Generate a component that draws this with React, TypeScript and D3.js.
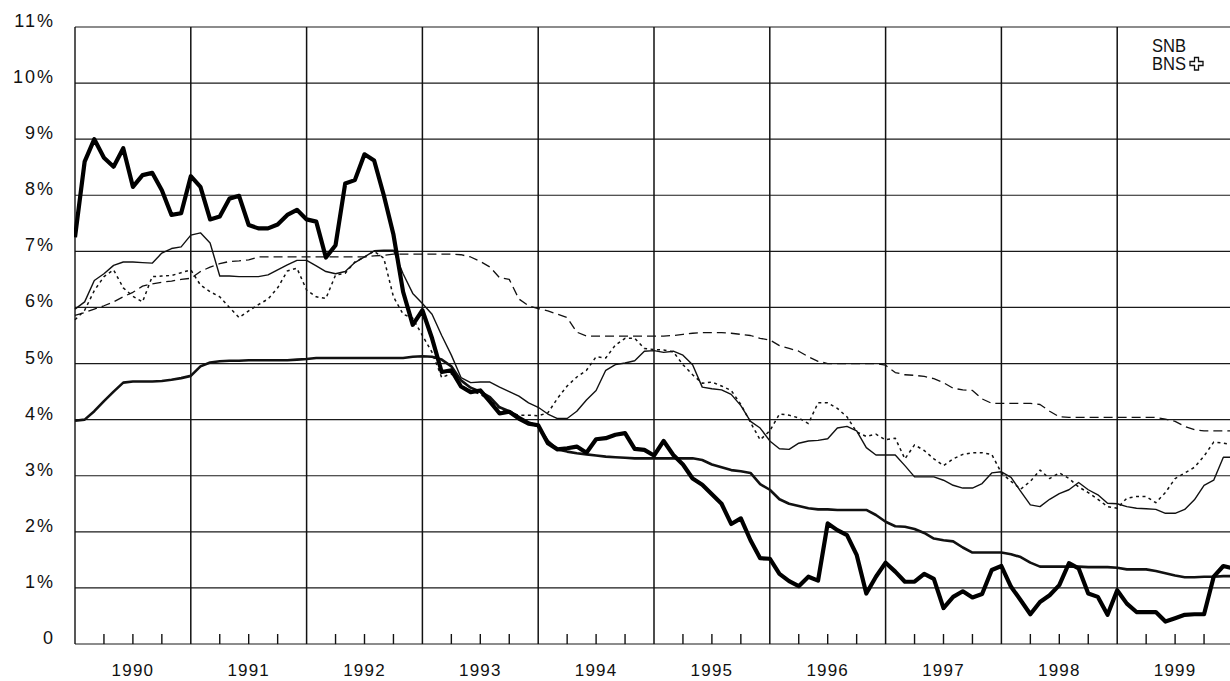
import React from "react";
import * as d3 from "d3";

// Monthly observations, Jan 1990 (index 0) .. Jan 2000 (index 120)
const years = [1990, 1991, 1992, 1993, 1994, 1995, 1996, 1997, 1998, 1999];
const yTicks = [0, 1, 2, 3, 4, 5, 6, 7, 8, 9, 10, 11];

const seriesThick = [
  7.25, 8.6, 9.0, 8.67, 8.51, 8.84, 8.15, 8.36, 8.4, 8.09, 7.65, 7.68,
  8.34, 8.15, 7.57, 7.62, 7.94, 7.99, 7.47, 7.41, 7.41, 7.48, 7.65, 7.74,
  7.57, 7.53, 6.89, 7.11, 8.21, 8.27, 8.73, 8.62, 8.0, 7.3, 6.28, 5.69,
  5.95, 5.45, 4.85, 4.88, 4.59, 4.49, 4.52, 4.32, 4.11, 4.14, 4.02, 3.93,
  3.9, 3.58, 3.47, 3.49, 3.52, 3.41, 3.65, 3.67, 3.73, 3.76, 3.48, 3.46,
  3.36, 3.62, 3.37, 3.2, 2.95, 2.84, 2.67, 2.5, 2.14, 2.24, 1.85, 1.53,
  1.52, 1.25, 1.12, 1.03, 1.2, 1.13, 2.15, 2.03, 1.94, 1.59, 0.9, 1.2,
  1.45, 1.29, 1.11, 1.11, 1.25, 1.16, 0.64, 0.84, 0.94, 0.83, 0.89, 1.32,
  1.39, 1.02, 0.78, 0.53, 0.75, 0.87, 1.05, 1.44, 1.35, 0.9, 0.84, 0.52,
  0.96, 0.72, 0.57, 0.57, 0.57, 0.4, 0.46, 0.52, 0.53, 0.53, 1.2, 1.39,
  1.35,
];

const seriesMedium = [
  3.98, 4.0, 4.15, 4.33, 4.5, 4.66, 4.68, 4.68, 4.68, 4.69, 4.71, 4.74,
  4.78, 4.95, 5.02, 5.04, 5.05, 5.05, 5.06, 5.06, 5.06, 5.06, 5.06, 5.07,
  5.08, 5.1, 5.1, 5.1, 5.1, 5.1, 5.1, 5.1, 5.1, 5.1, 5.1, 5.12,
  5.13, 5.12, 5.07, 4.95, 4.7, 4.57, 4.5, 4.4, 4.22, 4.15, 4.05, 3.95,
  3.88, 3.62, 3.47, 3.43, 3.4, 3.38, 3.36, 3.34, 3.33, 3.32, 3.31, 3.31,
  3.31, 3.31, 3.31, 3.31, 3.31, 3.28, 3.2, 3.15, 3.1, 3.08, 3.05, 2.85,
  2.75, 2.58, 2.5, 2.46, 2.42, 2.4, 2.4, 2.39, 2.39, 2.39, 2.39, 2.3,
  2.18, 2.1, 2.09, 2.05, 1.98, 1.88, 1.85, 1.83, 1.72, 1.63, 1.63, 1.63,
  1.63, 1.6, 1.55, 1.45, 1.38, 1.38, 1.38, 1.38, 1.38, 1.37, 1.37, 1.37,
  1.36, 1.33, 1.33, 1.33, 1.3, 1.26, 1.22, 1.19, 1.19, 1.2, 1.2, 1.21,
  1.21,
];

const seriesThin = [
  5.97, 6.1, 6.48, 6.6, 6.75, 6.81, 6.81, 6.8, 6.79, 6.97, 7.05, 7.08,
  7.29, 7.33, 7.15, 6.56, 6.56, 6.55, 6.55, 6.55, 6.58, 6.67, 6.76, 6.84,
  6.84, 6.74, 6.64, 6.6, 6.64, 6.8, 6.9, 7.01, 7.02, 7.02, 6.6, 6.25,
  6.07, 5.88, 5.5, 5.15, 4.75, 4.66, 4.67, 4.67, 4.58, 4.5, 4.42, 4.3,
  4.22, 4.1, 4.02, 4.02, 4.15, 4.35, 4.52, 4.88, 4.98, 5.01, 5.05, 5.22,
  5.23, 5.2, 5.22, 5.15, 4.98, 4.58, 4.55, 4.53, 4.45, 4.25, 3.97, 3.85,
  3.62, 3.48, 3.47, 3.58, 3.62, 3.63, 3.66, 3.85, 3.88, 3.8, 3.5, 3.37,
  3.37, 3.37, 3.18, 2.98, 2.98, 2.98, 2.92, 2.83, 2.78, 2.78, 2.86, 3.05,
  3.07, 2.97, 2.72, 2.48, 2.45, 2.58, 2.68, 2.75, 2.88, 2.75, 2.66, 2.51,
  2.5, 2.45, 2.42, 2.41, 2.4, 2.33, 2.33, 2.4, 2.57, 2.83, 2.92, 3.33,
  3.33,
];

const seriesDotted = [
  5.78, 5.95, 6.3, 6.55, 6.67, 6.35, 6.2, 6.1, 6.55, 6.56, 6.57, 6.62,
  6.67, 6.4, 6.28, 6.19, 6.0, 5.82, 5.94, 6.05, 6.15, 6.35, 6.65, 6.7,
  6.31, 6.19, 6.16, 6.58, 6.61, 6.81, 6.9, 7.0, 6.88, 6.19, 5.88, 5.81,
  5.5, 5.2, 4.75, 4.82, 4.6, 4.52, 4.45, 4.35, 4.2, 4.13, 4.08, 4.08,
  4.07, 4.12, 4.38, 4.6, 4.76, 4.88, 5.12, 5.1, 5.33, 5.45, 5.45, 5.27,
  5.25, 5.24, 5.21, 4.98, 4.8, 4.65, 4.67, 4.6, 4.52, 4.27, 3.95, 3.64,
  3.8, 4.1, 4.08, 4.03, 3.93, 4.3, 4.3, 4.2, 4.05, 3.78, 3.7, 3.74,
  3.64, 3.67, 3.3, 3.55, 3.45, 3.3, 3.18, 3.3, 3.38, 3.41, 3.41, 3.38,
  3.05, 2.9, 2.76, 2.9, 3.1, 2.95, 3.05, 2.95, 2.8, 2.7, 2.58, 2.45,
  2.42, 2.6, 2.63, 2.63, 2.52, 2.7, 2.95, 3.05, 3.15, 3.35, 3.6, 3.58,
  3.55,
];

const seriesDashed = [
  5.86, 5.91, 5.97, 6.03, 6.1, 6.19, 6.27, 6.38, 6.42, 6.45, 6.47, 6.5,
  6.52, 6.64, 6.72, 6.78, 6.82, 6.83, 6.85, 6.9, 6.9, 6.9, 6.9, 6.9,
  6.9, 6.9, 6.9, 6.9, 6.9, 6.9, 6.9, 6.92, 6.93, 6.95, 6.95, 6.95,
  6.95, 6.95, 6.95, 6.95, 6.94, 6.9, 6.82, 6.72, 6.53, 6.5, 6.15, 6.03,
  5.98, 5.94, 5.88, 5.82, 5.56, 5.49, 5.49, 5.49, 5.49, 5.49, 5.49, 5.49,
  5.49, 5.49, 5.5, 5.52, 5.54, 5.55, 5.55, 5.55, 5.54, 5.52, 5.5, 5.45,
  5.42, 5.32, 5.27, 5.22, 5.12, 5.04, 5.0, 5.0, 5.0, 5.0, 5.0, 5.0,
  4.97, 4.84, 4.8, 4.79, 4.77, 4.73, 4.66, 4.56, 4.53, 4.52, 4.37, 4.29,
  4.29, 4.29, 4.29, 4.29, 4.27, 4.15, 4.05, 4.04, 4.04, 4.04, 4.04, 4.04,
  4.04, 4.04, 4.04, 4.04, 4.04, 4.01, 3.97, 3.88, 3.82, 3.8, 3.8, 3.8,
  3.8,
];

const W = 1230;
const H = 681;
const LEFT = 75;
const TOP = 27;
const BOTTOM = 644;
const YEAR_W = 115.8;

export default function App() {
  const x = d3.scaleLinear().domain([0, 120]).range([LEFT, LEFT + YEAR_W * 10]);
  const y = d3.scaleLinear().domain([0, 11]).range([BOTTOM, TOP]);
  const line = d3
    .line<number>()
    .x((_, i) => x(i))
    .y((d) => y(d));

  const font = "'Liberation Sans', Arial, Helvetica, sans-serif";
  const quarterTicks: number[] = [];
  years.forEach((_, k) => {
    [3, 6, 9].forEach((m) => quarterTicks.push(k * 12 + m));
  });

  return (
    <svg
      width={W}
      height={H}
      style={{ position: "absolute", left: 0, top: 0, background: "#fff" }}
    >
      <defs>
        <clipPath id="plot">
          <rect x={LEFT - 1} y={TOP - 2} width={W - LEFT + 1} height={BOTTOM - TOP + 4} />
        </clipPath>
      </defs>
      <rect x={0} y={0} width={W} height={H} fill="#fff" />

      {/* horizontal gridlines */}
      {yTicks.map((t) => (
        <line
          key={"h" + t}
          x1={LEFT}
          x2={W}
          y1={y(t)}
          y2={y(t)}
          stroke="#1a1a1a"
          strokeWidth={1.2}
        />
      ))}
      {/* vertical year lines */}
      {years.map((yr, k) => (
        <line
          key={"v" + yr}
          x1={x(k * 12)}
          x2={x(k * 12)}
          y1={TOP}
          y2={BOTTOM}
          stroke="#111"
          strokeWidth={k === 0 ? 1.4 : 1.5}
        />
      ))}
      {/* quarter ticks */}
      {quarterTicks.map((m) => (
        <line
          key={"q" + m}
          x1={x(m)}
          x2={x(m)}
          y1={BOTTOM}
          y2={BOTTOM - 10}
          stroke="#111"
          strokeWidth={1.4}
        />
      ))}

      {/* y labels */}
      {yTicks.map((t) => (
        <text
          key={"yl" + t}
          x={55}
          y={y(t)}
          textAnchor="end"
          fontFamily={font}
          fontSize={18}
          letterSpacing={2}
          fill="#111"
        >
          {t === 0 ? "0" : t + "%"}
        </text>
      ))}
      {/* x labels */}
      {years.map((yr, k) => (
        <text
          key={"xl" + yr}
          x={x(k * 12 + 6)}
          y={676}
          textAnchor="middle"
          fontFamily={font}
          fontSize={17}
          letterSpacing={1.2}
          fill="#111"
        >
          {yr}
        </text>
      ))}

      <g clipPath="url(#plot)" fill="none" strokeLinejoin="round">
        <path d={line(seriesDashed) || ""} stroke="#111" strokeWidth={1.3} strokeDasharray="9,5" />
        <path d={line(seriesDotted) || ""} stroke="#111" strokeWidth={1.5} strokeDasharray="3,3.5" />
        <path d={line(seriesThin) || ""} stroke="#111" strokeWidth={1.4} />
        <path d={line(seriesMedium) || ""} stroke="#111" strokeWidth={2.6} />
        <path d={line(seriesThick) || ""} stroke="#000" strokeWidth={4.2} />
      </g>

      {/* SNB BNS logo */}
      <g fill="#111" fontFamily="'Liberation Sans Narrow', 'Liberation Sans', Arial, sans-serif">
        <text x={1152} y={52} fontSize={18} textLength={34} lengthAdjust="spacingAndGlyphs">
          SNB
        </text>
        <text x={1152} y={70} fontSize={18} textLength={34} lengthAdjust="spacingAndGlyphs">
          BNS
        </text>
        <path
          d="M1194.5,57.5 h4 v4 h4.5 v4 h-4.5 v4.5 h-4 v-4.5 h-4.5 v-4 h4.5 z"
          fill="none"
          stroke="#111"
          strokeWidth={1.3}
        />
      </g>
    </svg>
  );
}
